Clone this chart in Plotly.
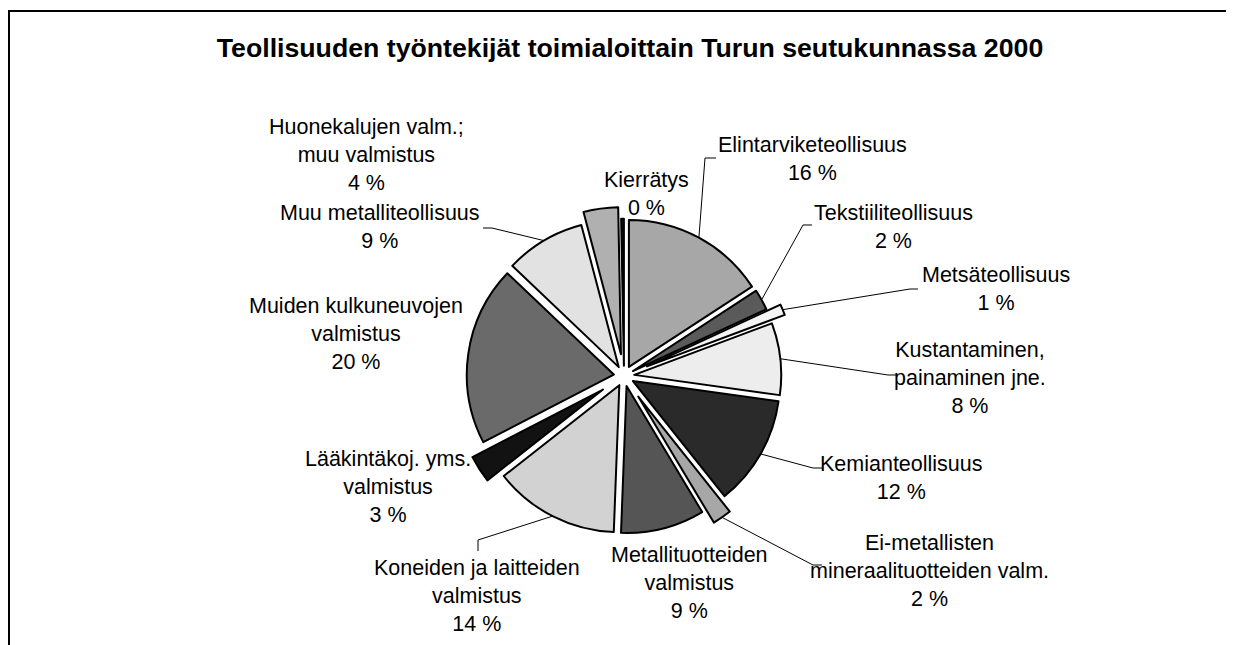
import math
import plotly.graph_objects as go

W, H = 1234, 645
OFF = 8  # page body margin compensation

# ---- data ----
categories = [
    "Elintarviketeollisuus", "Tekstiiliteollisuus", "Metsäteollisuus",
    "Kustantaminen, painaminen jne.", "Kemianteollisuus",
    "Ei-metallisten mineraalituotteiden valm.", "Metallituotteiden valmistus",
    "Koneiden ja laitteiden valmistus", "Lääkintäkoj. yms. valmistus",
    "Muiden kulkuneuvojen valmistus", "Muu metalliteollisuus",
    "Huonekalujen valm.; muu valmistus", "Kierrätys",
]
label_text = [
    "Elintarviketeollisuus", "Tekstiiliteollisuus", "Metsäteollisuus",
    "Kustantaminen,<br>painaminen jne.", "Kemianteollisuus",
    "Ei-metallisten<br>mineraalituotteiden valm.", "Metallituotteiden<br>valmistus",
    "Koneiden ja laitteiden<br>valmistus", "Lääkintäkoj. yms.<br>valmistus",
    "Muiden kulkuneuvojen<br>valmistus", "Muu metalliteollisuus",
    "Huonekalujen valm.;<br>muu valmistus", "Kierrätys",
]
shares = [15.8, 2.3, 1.2, 7.9, 12.1, 2.1, 9.2, 13.8, 3.0, 19.7, 8.8, 3.8, 0.3]

# ---- style ----
colors = ["#A7A7A7", "#5A5A5A", "#F4F4F4", "#EDEDED", "#2A2A2A", "#A7A7A7",
          "#555555", "#D2D2D2", "#121212", "#6A6A6A", "#E2E2E2", "#B0B0B0", "#111111"]
pulls = [0.07, 0.07, 0.17, 0.07, 0.07, 0.17, 0.07, 0.07, 0.17, 0.07, 0.07, 0.15, 0.07]

# label centres (px) and leader line waypoints (px) -- layout positions
label_pos = [(812, 159), (893, 227), (996, 289), (970, 378), (901, 478), (929, 571),
             (689, 583), (477, 596), (388, 487), (356, 334), (380, 227), (366, 155), (646, 194)]
leader_pts = [
    [(705, 158), (716, 158)],
    [(803, 225), (812, 225)],
    [(910, 289), (918, 289)],
    [(888, 375), (896, 375)],
    [(813, 468), (822, 468)],
    [(813, 565), (822, 565)],
    None,
    [(478, 540), (478, 551)],
    None,
    None,
    [(492, 228), (483, 228)],
    None,
    None,
]

CX, CY, R = 624, 376, 147
maxpull = max(pulls)
half = R * (1 + maxpull)

def px(x, y):
    return (x - OFF) / W, 1 - (y - OFF) / H

dx0, dy1 = px(CX - half, CY - half)
dx1, dy0 = px(CX + half, CY + half)

fig = go.Figure(go.Pie(
    labels=categories, values=shares, sort=False, direction="clockwise", rotation=0,
    marker=dict(colors=colors, line=dict(color="black", width=2)),
    pull=pulls, textinfo="none", domain=dict(x=[dx0, dx1], y=[dy0, dy1]),
    showlegend=False, hoverinfo="label+percent",
))

total = sum(shares)
cum = 0.0
shapes = []
annotations = []
for i, v in enumerate(shares):
    mid = (cum + v / 2) / total * 2 * math.pi
    cum += v
    lx, ly = label_pos[i]
    ax, ay = px(lx, ly)
    annotations.append(dict(
        x=ax, y=ay, xref="paper", yref="paper", xanchor="center", yanchor="middle",
        text=f"{label_text[i]}<br>{round(v)} %", showarrow=False, align="center",
        font=dict(family="Liberation Sans, Arial", size=21.5, color="black"),
    ))
    if leader_pts[i]:
        rr = R * (1 + pulls[i])
        sx = CX + rr * math.sin(mid)
        sy = CY - rr * math.cos(mid)
        pts = [(sx, sy)] + leader_pts[i]
        path = "M " + " L ".join(f"{px(a, b)[0]:.5f},{px(a, b)[1]:.5f}" for a, b in pts)
        shapes.append(dict(type="path", xref="paper", yref="paper", path=path,
                           line=dict(color="black", width=1)))

# outer frame
fx0, fy0 = px(9, 11)
shapes.append(dict(type="rect", xref="paper", yref="paper",
                   x0=fx0, y0=fy0, x1=1.05, y1=-0.05,
                   line=dict(color="black", width=2), fillcolor="rgba(0,0,0,0)"))

tx, ty = px(630, 48)
fig.update_layout(
    width=W, height=H, margin=dict(l=0, r=0, t=0, b=0),
    paper_bgcolor="white", plot_bgcolor="white",
    title=dict(text="Teollisuuden työntekijät toimialoittain Turun seutukunnassa 2000",
               x=tx, y=ty, xanchor="center", yanchor="middle",
               font=dict(family="Liberation Sans, Arial", size=26.7, color="black", weight="bold")),
    shapes=shapes, annotations=annotations,
)

fig.write_html("out.html")
